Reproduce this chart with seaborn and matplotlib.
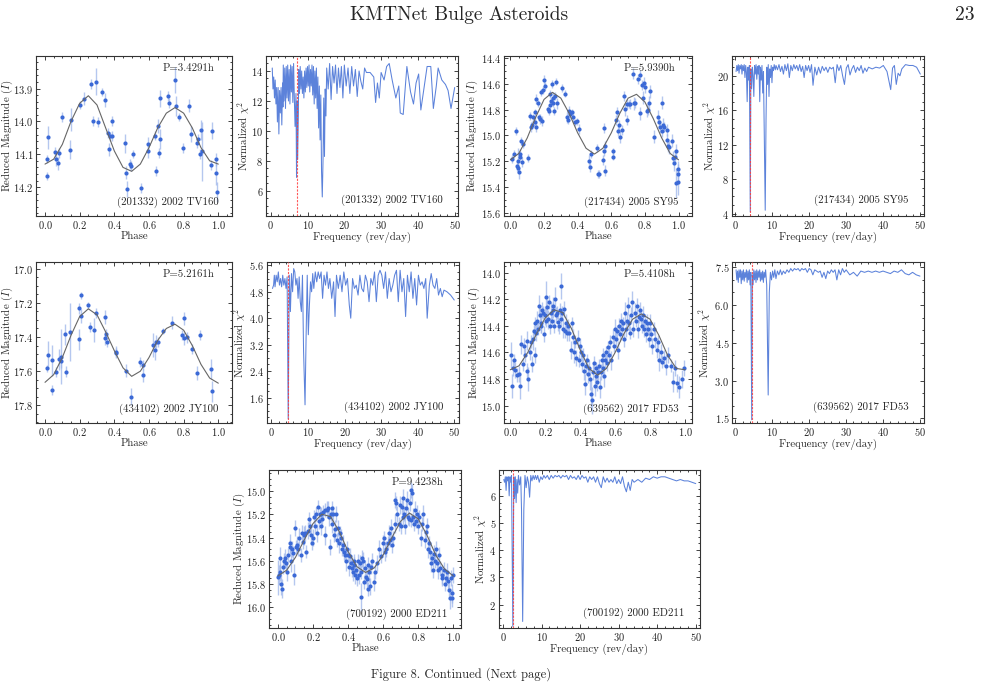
import numpy as np
import pandas as pd
import matplotlib
matplotlib.use("Agg")
import matplotlib.pyplot as plt
import seaborn as sns
from matplotlib.ticker import MultipleLocator, AutoMinorLocator

# ------------------------------------------------------------------ data
NAMES = ["(201332) 2002 TV160", "(217434) 2005 SY95", "(434102) 2002 JY100",
         "(639562) 2017 FD53", "(700192) 2000 ED211"]
PERIOD_LABELS = ["P=3.4291h", "P=5.9390h", "P=5.2161h", "P=5.4108h", "P=9.4238h"]
BEST_FREQ = [7.0, 4.04, 4.60, 4.44, 2.55]

FIT_PHASE = [0.00, 0.05, 0.10, 0.15, 0.20, 0.25, 0.30, 0.35, 0.40, 0.45, 0.50,
             0.55, 0.60, 0.65, 0.70, 0.75, 0.80, 0.85, 0.90, 0.95, 1.00]
FIT_A = [14.130, 14.115, 14.070, 14.000, 13.945, 13.922, 13.950, 14.020, 14.090, 14.140, 14.152,
         14.130, 14.080, 14.020, 13.975, 13.958, 13.975, 14.020, 14.080, 14.120, 14.130]
FIT_C = [15.190, 15.140, 15.020, 14.860, 14.720, 14.665, 14.710, 14.830, 14.980, 15.100, 15.145,
         15.100, 14.980, 14.830, 14.710, 14.680, 14.740, 14.870, 15.020, 15.140, 15.190]
FIT_E = [17.665, 17.620, 17.520, 17.390, 17.280, 17.235, 17.270, 17.370, 17.480, 17.580, 17.630,
         17.600, 17.520, 17.420, 17.350, 17.325, 17.360, 17.450, 17.560, 17.640, 17.670]
FIT_G = [14.730, 14.700, 14.600, 14.460, 14.340, 14.280, 14.300, 14.420, 14.580, 14.720, 14.770,
         14.720, 14.600, 14.460, 14.350, 14.310, 14.350, 14.470, 14.620, 14.720, 14.730]
FIT_I = [15.730, 15.680, 15.570, 15.420, 15.280, 15.200, 15.220, 15.350, 15.520, 15.650, 15.700,
         15.660, 15.550, 15.400, 15.260, 15.190, 15.240, 15.380, 15.550, 15.670, 15.730]

PH_A = [0.010, 0.013, 0.019, 0.060, 0.063, 0.073, 0.083, 0.100, 0.144, 0.148,
        0.200, 0.225, 0.265, 0.294, 0.277, 0.306, 0.327, 0.344, 0.362, 0.367,
        0.375, 0.387, 0.387, 0.463, 0.465, 0.473, 0.492, 0.498, 0.508, 0.556,
        0.592, 0.592, 0.635, 0.638, 0.652, 0.660, 0.665, 0.665, 0.712, 0.713,
        0.750, 0.756, 0.775, 0.798, 0.830, 0.840, 0.881, 0.879, 0.894, 0.902,
        0.906, 0.958, 0.965, 0.988, 0.988, 0.990]
MAG_A = [14.115, 14.166, 14.048, 14.092, 14.115, 14.127, 14.097, 13.986, 14.086, 13.995,
         13.950, 13.931, 13.887, 13.879, 14.000, 14.002, 13.911, 13.935, 14.035, 14.085,
         14.046, 14.045, 14.000, 14.067, 14.156, 14.205, 14.129, 14.137, 14.099, 14.202,
         14.069, 14.090, 14.043, 14.150, 14.014, 14.096, 13.930, 14.053, 13.924, 13.945,
         13.875, 13.954, 13.988, 14.080, 13.952, 14.038, 14.053, 14.065, 14.099, 14.026,
         14.091, 14.132, 14.028, 14.116, 14.158, 14.215]
ERR_A = [0.012, 0.012, 0.035, 0.015, 0.020, 0.020, 0.015, 0.015, 0.030, 0.035,
         0.012, 0.020, 0.015, 0.040, 0.015, 0.015, 0.012, 0.020, 0.015, 0.020,
         0.015, 0.015, 0.015, 0.030, 0.020, 0.025, 0.015, 0.015, 0.012, 0.015,
         0.020, 0.020, 0.015, 0.015, 0.020, 0.015, 0.025, 0.030, 0.015, 0.015,
         0.040, 0.030, 0.012, 0.015, 0.020, 0.025, 0.015, 0.015, 0.015, 0.030,
         0.090, 0.015, 0.025, 0.020, 0.035, 0.030]

PH_C = [0.012, 0.022, 0.036, 0.038, 0.046, 0.048, 0.054, 0.056, 0.060, 0.064,
        0.070, 0.076, 0.107, 0.119, 0.125, 0.131, 0.135, 0.145, 0.149, 0.155,
        0.155, 0.165, 0.169, 0.175, 0.181, 0.187, 0.191, 0.199, 0.207, 0.221,
        0.227, 0.233, 0.237, 0.241, 0.247, 0.251, 0.254, 0.258, 0.264, 0.274,
        0.280, 0.306, 0.324, 0.334, 0.340, 0.348, 0.354, 0.364, 0.374, 0.382,
        0.398, 0.406, 0.467, 0.475, 0.477, 0.513, 0.519, 0.529, 0.551, 0.557,
        0.559, 0.563, 0.565, 0.608, 0.608, 0.626, 0.634, 0.642, 0.646, 0.652,
        0.662, 0.676, 0.684, 0.692, 0.696, 0.706, 0.712, 0.728, 0.734, 0.742,
        0.761, 0.769, 0.773, 0.781, 0.787, 0.795, 0.801, 0.811, 0.819, 0.825,
        0.831, 0.855, 0.879, 0.883, 0.891, 0.899, 0.903, 0.907, 0.915, 0.930,
        0.934, 0.940, 0.946, 0.960, 0.968, 0.974, 0.978, 0.986, 0.994, 0.986,
        0.996, 0.998]
MAG_C = [15.183, 15.144, 14.963, 15.240, 15.196, 15.253, 15.286, 15.165, 15.144, 15.043,
         15.209, 15.067, 15.175, 14.850, 14.937, 14.917, 14.860, 14.899, 14.821, 14.718,
         14.932, 14.751, 14.860, 14.873, 14.666, 14.886, 14.645, 14.571, 14.617, 14.798,
         14.813, 14.762, 14.679, 14.736, 14.602, 14.705, 14.751, 14.808, 14.692, 14.581,
         14.751, 14.633, 14.674, 14.860, 14.881, 14.808, 14.834, 14.821, 14.855, 14.899,
         14.891, 14.950, 15.196, 15.248, 15.144, 15.098, 15.299, 15.299, 15.191, 15.124,
         14.943, 15.080, 15.273, 15.165, 15.124, 14.881, 14.816, 14.963, 14.917, 15.010,
         14.958, 14.692, 14.795, 14.881, 14.757, 14.757, 14.757, 14.519, 14.751, 14.749,
         14.563, 14.829, 14.529, 14.607, 14.705, 14.589, 14.627, 14.808, 14.803, 14.744,
         14.658, 15.010, 14.855, 14.899, 14.932, 14.744, 14.963, 14.917, 14.932, 14.958,
         15.036, 15.080, 15.093, 15.041, 15.175, 15.217, 15.165, 15.118, 15.260, 15.370,
         15.360, 15.300]
ERR_C = [0.03, 0.03, 0.03, 0.04, 0.10, 0.04, 0.05, 0.03, 0.04, 0.03,
         0.04, 0.03, 0.03, 0.03, 0.04, 0.03, 0.03, 0.04, 0.03, 0.04,
         0.04, 0.03, 0.03, 0.04, 0.03, 0.04, 0.03, 0.04, 0.03, 0.03,
         0.03, 0.04, 0.03, 0.03, 0.03, 0.04, 0.03, 0.03, 0.03, 0.03,
         0.04, 0.03, 0.03, 0.04, 0.03, 0.04, 0.03, 0.03, 0.04, 0.03,
         0.03, 0.04, 0.04, 0.04, 0.03, 0.03, 0.03, 0.03, 0.04, 0.04,
         0.04, 0.04, 0.04, 0.03, 0.03, 0.04, 0.04, 0.04, 0.04, 0.05,
         0.04, 0.04, 0.05, 0.04, 0.04, 0.03, 0.04, 0.04, 0.05, 0.04,
         0.04, 0.05, 0.04, 0.04, 0.05, 0.04, 0.04, 0.05, 0.04, 0.05,
         0.05, 0.05, 0.05, 0.04, 0.05, 0.05, 0.05, 0.05, 0.04, 0.05,
         0.05, 0.05, 0.05, 0.05, 0.05, 0.06, 0.05, 0.05, 0.06, 0.12,
         0.10, 0.08]

PH_E = [0.010, 0.015, 0.038, 0.042, 0.062, 0.083, 0.090, 0.090, 0.115, 0.119,
        0.144, 0.194, 0.194, 0.206, 0.208, 0.250, 0.260, 0.285, 0.296, 0.344,
        0.348, 0.354, 0.356, 0.410, 0.410, 0.469, 0.494, 0.548, 0.563, 0.567,
        0.625, 0.633, 0.640, 0.654, 0.683, 0.735, 0.790, 0.800, 0.804, 0.817,
        0.846, 0.875, 0.894, 0.960, 0.965]
MAG_E = [17.583, 17.505, 17.536, 17.709, 17.606, 17.530, 17.515, 17.540, 17.384, 17.602,
         17.369, 17.233, 17.414, 17.276, 17.155, 17.214, 17.340, 17.359, 17.258, 17.282,
         17.404, 17.383, 17.427, 17.485, 17.495, 17.596, 17.748, 17.548, 17.563, 17.625,
         17.447, 17.476, 17.427, 17.427, 17.365, 17.315, 17.388, 17.291, 17.408, 17.402,
         17.470, 17.612, 17.388, 17.588, 17.718]
ERR_E = [0.02, 0.08, 0.09, 0.03, 0.03, 0.06, 0.16, 0.04, 0.06, 0.03,
         0.17, 0.03, 0.06, 0.04, 0.02, 0.02, 0.03, 0.07, 0.03, 0.04,
         0.04, 0.03, 0.03, 0.03, 0.03, 0.04, 0.05, 0.03, 0.03, 0.04,
         0.07, 0.06, 0.04, 0.03, 0.02, 0.04, 0.03, 0.04, 0.04, 0.03,
         0.03, 0.04, 0.03, 0.06, 0.06]

PH_G = [0.003, 0.008, 0.013, 0.021, 0.028, 0.038, 0.047, 0.056, 0.062, 0.071,
        0.078, 0.086, 0.093, 0.098, 0.104, 0.111, 0.117, 0.123, 0.128, 0.134,
        0.139, 0.144, 0.148, 0.153, 0.158, 0.163, 0.168, 0.173, 0.178, 0.183,
        0.188, 0.193, 0.198, 0.203, 0.207, 0.212, 0.217, 0.222, 0.227, 0.232,
        0.237, 0.242, 0.247, 0.252, 0.257, 0.262, 0.267, 0.272, 0.277, 0.282,
        0.288, 0.293, 0.298, 0.303, 0.308, 0.313, 0.318, 0.323, 0.330, 0.338,
        0.345, 0.352, 0.358, 0.365, 0.372, 0.378, 0.385, 0.391, 0.397, 0.403,
        0.409, 0.415, 0.421, 0.427, 0.433, 0.439, 0.445, 0.451, 0.457, 0.463,
        0.468, 0.473, 0.478, 0.483, 0.488, 0.493, 0.498, 0.503, 0.508, 0.513,
        0.518, 0.523, 0.528, 0.533, 0.538, 0.543, 0.549, 0.555, 0.561, 0.567,
        0.573, 0.579, 0.585, 0.591, 0.597, 0.603, 0.609, 0.615, 0.621, 0.627,
        0.633, 0.639, 0.645, 0.651, 0.657, 0.663, 0.669, 0.675, 0.681, 0.687,
        0.693, 0.699, 0.705, 0.711, 0.717, 0.723, 0.729, 0.735, 0.741, 0.747,
        0.753, 0.759, 0.765, 0.771, 0.777, 0.783, 0.789, 0.795, 0.801, 0.807,
        0.813, 0.821, 0.829, 0.837, 0.845, 0.853, 0.861, 0.871, 0.881, 0.891,
        0.903, 0.917, 0.929, 0.941, 0.955, 0.967, 0.981, 0.996]
MAG_G = [14.62, 14.85, 14.72, 14.66, 14.73, 14.77, 14.76, 14.85, 14.54, 14.69,
         14.55, 14.62, 14.74, 14.51, 14.80, 14.60, 14.52, 14.69, 14.50, 14.44,
         14.62, 14.38, 14.45, 14.36, 14.42, 14.25, 14.32, 14.40, 14.38, 14.28,
         14.30, 14.46, 14.32, 14.18, 14.36, 14.26, 14.35, 14.22, 14.40, 14.30,
         14.36, 14.28, 14.25, 14.40, 14.20, 14.32, 14.30, 14.37, 14.40, 14.28,
         14.10, 14.35, 14.30, 14.42, 14.27, 14.44, 14.38, 14.45, 14.40, 14.45,
         14.58, 14.38, 14.48, 14.60, 14.52, 14.64, 14.50, 14.66, 14.55, 14.60,
         14.69, 14.62, 14.74, 14.84, 14.70, 14.66, 14.76, 14.72, 14.80, 14.91,
         14.96, 14.75, 14.68, 14.85, 14.78, 14.72, 14.82, 14.75, 14.70, 14.86,
         14.75, 14.66, 14.72, 14.62, 14.78, 14.66, 14.60, 14.68, 14.56, 14.62,
         14.52, 14.66, 14.48, 14.55, 14.42, 14.50, 14.44, 14.58, 14.40, 14.46,
         14.36, 14.42, 14.38, 14.50, 14.30, 14.42, 14.36, 14.25, 14.38, 14.45,
         14.32, 14.22, 14.42, 14.30, 14.36, 14.25, 14.42, 14.33, 14.28, 14.35,
         14.40, 14.32, 14.42, 14.36, 14.46, 14.38, 14.42, 14.50, 14.38, 14.46,
         14.55, 14.42, 14.50, 14.58, 14.52, 14.66, 14.60, 14.67, 14.64, 14.70,
         14.62, 14.70, 14.82, 14.72, 14.83, 14.86, 14.80, 14.72]
ERR_G = [0.10, 0.09, 0.06, 0.05, 0.06, 0.05, 0.06, 0.10, 0.07, 0.05,
         0.06, 0.05, 0.06, 0.07, 0.09, 0.06, 0.05, 0.06, 0.08, 0.05,
         0.06, 0.05, 0.06, 0.07, 0.05, 0.08, 0.06, 0.05, 0.07, 0.06,
         0.05, 0.06, 0.07, 0.12, 0.05, 0.06, 0.07, 0.05, 0.06, 0.08,
         0.05, 0.06, 0.07, 0.05, 0.09, 0.06, 0.05, 0.07, 0.06, 0.05,
         0.10, 0.06, 0.05, 0.07, 0.06, 0.05, 0.07, 0.06, 0.05, 0.06,
         0.07, 0.05, 0.06, 0.08, 0.05, 0.06, 0.07, 0.05, 0.06, 0.05,
         0.06, 0.05, 0.07, 0.08, 0.06, 0.05, 0.07, 0.06, 0.08, 0.10,
         0.10, 0.06, 0.05, 0.08, 0.06, 0.05, 0.07, 0.06, 0.05, 0.08,
         0.06, 0.05, 0.07, 0.05, 0.08, 0.06, 0.05, 0.06, 0.05, 0.06,
         0.05, 0.07, 0.06, 0.05, 0.07, 0.06, 0.05, 0.07, 0.06, 0.05,
         0.06, 0.07, 0.05, 0.06, 0.08, 0.06, 0.05, 0.07, 0.06, 0.05,
         0.06, 0.08, 0.06, 0.07, 0.05, 0.06, 0.07, 0.05, 0.06, 0.06,
         0.05, 0.07, 0.06, 0.05, 0.06, 0.07, 0.05, 0.06, 0.07, 0.05,
         0.06, 0.05, 0.07, 0.06, 0.05, 0.08, 0.06, 0.05, 0.06, 0.07,
         0.06, 0.05, 0.08, 0.06, 0.07, 0.08, 0.07, 0.06]

PH_I = [0.002, 0.005, 0.009, 0.013, 0.018, 0.022, 0.027, 0.032, 0.040, 0.046,
        0.052, 0.058, 0.066, 0.071, 0.077, 0.083, 0.088, 0.094, 0.098, 0.104,
        0.110, 0.116, 0.122, 0.129, 0.136, 0.142, 0.149, 0.156, 0.162, 0.169,
        0.176, 0.182, 0.187, 0.193, 0.198, 0.204, 0.211, 0.217, 0.222, 0.228,
        0.233, 0.238, 0.243, 0.248, 0.253, 0.259, 0.266, 0.271, 0.278, 0.285,
        0.290, 0.295, 0.301, 0.306, 0.311, 0.316, 0.321, 0.326, 0.331, 0.336,
        0.341, 0.346, 0.352, 0.358, 0.365, 0.371, 0.377, 0.383, 0.388, 0.393,
        0.399, 0.405, 0.411, 0.416, 0.421, 0.426, 0.431, 0.436, 0.441, 0.446,
        0.451, 0.456, 0.461, 0.466, 0.471, 0.476, 0.481, 0.486, 0.491, 0.496,
        0.501, 0.506, 0.511, 0.516, 0.521, 0.526, 0.531, 0.538, 0.546, 0.556,
        0.567, 0.578, 0.588, 0.598, 0.606, 0.612, 0.619, 0.627, 0.633, 0.640,
        0.646, 0.651, 0.657, 0.665, 0.670, 0.676, 0.681, 0.688, 0.695, 0.700,
        0.706, 0.711, 0.716, 0.721, 0.726, 0.731, 0.736, 0.741, 0.746, 0.751,
        0.756, 0.761, 0.766, 0.771, 0.776, 0.781, 0.786, 0.795, 0.801, 0.807,
        0.815, 0.821, 0.828, 0.836, 0.842, 0.848, 0.855, 0.861, 0.868, 0.874,
        0.879, 0.884, 0.889, 0.896, 0.902, 0.908, 0.915, 0.921, 0.927, 0.933,
        0.938, 0.945, 0.950, 0.956, 0.962, 0.968, 0.975, 0.980, 0.986, 0.991,
        0.995, 0.998]
MAG_I = [15.74, 15.72, 15.58, 15.70, 15.80, 15.84, 15.65, 15.60, 15.58, 15.62,
         15.70, 15.55, 15.45, 15.48, 15.60, 15.50, 15.53, 15.72, 15.32, 15.48,
         15.46, 15.50, 15.40, 15.55, 15.36, 15.44, 15.38, 15.36, 15.52, 15.34,
         15.24, 15.30, 15.38, 15.45, 15.40, 15.22, 15.30, 15.20, 15.36, 15.14,
         15.26, 15.20, 15.30, 15.20, 15.24, 15.18, 15.38, 15.16, 15.16, 15.15,
         15.22, 15.48, 15.20, 15.28, 15.15, 15.20, 15.38, 15.33, 15.20, 15.42,
         15.32, 15.45, 15.36, 15.40, 15.50, 15.46, 15.52, 15.55, 15.60, 15.50,
         15.55, 15.65, 15.56, 15.62, 15.66, 15.70, 15.60, 15.64, 15.72, 15.68,
         15.75, 15.60, 15.72, 15.62, 15.91, 15.70, 15.58, 15.60, 15.78, 15.66,
         15.74, 15.76, 15.64, 15.84, 15.70, 15.82, 15.65, 15.60, 15.78, 15.70,
         15.62, 15.50, 15.56, 15.45, 15.40, 15.52, 15.50, 15.45, 15.36, 15.42,
         15.32, 15.46, 15.40, 15.08, 15.28, 15.10, 15.20, 15.28, 15.12, 15.30,
         15.14, 15.22, 15.06, 15.20, 15.30, 15.15, 15.08, 15.22, 15.24, 15.10,
         14.99, 15.25, 15.02, 15.22, 15.28, 15.16, 15.26, 15.20, 15.30, 15.22,
         15.40, 15.28, 15.20, 15.42, 15.35, 15.30, 15.50, 15.45, 15.52, 15.62,
         15.58, 15.68, 15.54, 15.60, 15.50, 15.62, 15.68, 15.55, 15.66, 15.75,
         15.72, 15.68, 15.80, 15.75, 15.70, 15.77, 15.85, 15.92, 15.75, 15.88,
         15.92, 15.72]
ERR_I = [0.15, 0.08, 0.10, 0.07, 0.09, 0.08, 0.06, 0.07, 0.08, 0.06,
         0.07, 0.06, 0.08, 0.06, 0.10, 0.07, 0.06, 0.09, 0.07, 0.06,
         0.07, 0.06, 0.08, 0.06, 0.07, 0.06, 0.08, 0.07, 0.06, 0.07,
         0.06, 0.07, 0.08, 0.06, 0.07, 0.06, 0.07, 0.06, 0.08, 0.06,
         0.07, 0.06, 0.08, 0.06, 0.07, 0.06, 0.08, 0.06, 0.07, 0.06,
         0.08, 0.07, 0.06, 0.08, 0.06, 0.07, 0.06, 0.08, 0.07, 0.06,
         0.07, 0.08, 0.06, 0.07, 0.06, 0.08, 0.07, 0.06, 0.09, 0.07,
         0.06, 0.08, 0.07, 0.06, 0.08, 0.07, 0.06, 0.07, 0.08, 0.06,
         0.07, 0.06, 0.08, 0.07, 0.12, 0.06, 0.07, 0.08, 0.06, 0.07,
         0.06, 0.08, 0.07, 0.06, 0.08, 0.07, 0.06, 0.07, 0.08, 0.06,
         0.07, 0.08, 0.06, 0.07, 0.06, 0.08, 0.07, 0.06, 0.07, 0.06,
         0.08, 0.07, 0.06, 0.07, 0.08, 0.06, 0.07, 0.06, 0.08, 0.07,
         0.06, 0.07, 0.08, 0.06, 0.07, 0.06, 0.08, 0.07, 0.06, 0.07,
         0.07, 0.06, 0.08, 0.07, 0.06, 0.07, 0.06, 0.08, 0.07, 0.06,
         0.07, 0.06, 0.08, 0.07, 0.06, 0.07, 0.08, 0.06, 0.07, 0.08,
         0.06, 0.07, 0.08, 0.06, 0.07, 0.06, 0.08, 0.07, 0.06, 0.07,
         0.08, 0.07, 0.06, 0.07, 0.08, 0.07, 0.08, 0.09, 0.07, 0.08,
         0.08, 0.07]

# periodograms: (frequency rev/day, normalized chi^2)
PG_B = [(0.4, 14.2), (0.6, 12.8), (0.8, 13.6), (1.0, 12.2), (1.2, 13.4), (1.4, 11.8),
        (1.6, 12.9), (1.8, 10.6), (2.0, 12.9), (2.2, 9.8), (2.4, 12.7), (2.6, 11.2),
        (2.8, 12.9), (3.0, 10.4), (3.2, 13.2), (3.3, 11.6), (3.4, 14.4), (3.6, 12.0),
        (3.8, 14.2), (4.0, 11.5), (4.2, 14.3), (4.4, 12.2), (4.6, 14.4), (4.8, 12.0),
        (5.0, 14.1), (5.2, 11.8), (5.4, 14.4), (5.6, 12.6), (5.8, 14.3), (6.0, 11.9),
        (6.2, 14.5), (6.4, 12.2), (6.6, 10.3), (6.85, 12.5), (7.0, 6.9), (7.15, 12.0),
        (7.3, 8.1), (7.5, 11.2), (7.6, 14.1), (7.8, 12.5), (8.0, 14.3), (8.2, 12.8),
        (8.4, 14.0), (8.6, 12.5), (8.8, 13.6), (9.0, 12.2), (9.2, 14.0), (9.4, 12.6),
        (9.6, 14.2), (9.8, 12.9), (10.0, 14.3), (10.2, 13.0), (10.4, 14.4), (10.6, 12.6),
        (10.8, 14.1), (11.0, 13.0), (11.2, 14.4), (11.4, 12.4), (11.6, 14.3), (11.8, 11.8),
        (12.0, 14.0), (12.2, 12.2), (12.4, 14.2), (12.6, 11.5), (12.8, 13.6), (13.0, 10.2),
        (13.2, 13.0), (13.4, 9.4), (13.6, 12.4), (13.8, 7.3), (14.0, 5.6), (14.2, 8.0),
        (14.4, 12.2), (14.6, 8.3), (14.8, 12.8), (15.0, 11.0), (15.2, 14.2), (15.6, 12.8),
        (16.0, 14.5), (16.4, 12.1), (16.8, 14.3), (17.2, 13.2), (17.6, 14.4), (18.0, 12.5),
        (18.4, 14.2), (18.8, 12.9), (19.2, 14.3), (19.6, 12.2), (20.0, 14.4), (20.5, 13.0),
        (21.0, 14.2), (21.5, 12.5), (22.0, 14.3), (22.5, 13.0), (23.0, 14.1), (23.5, 12.3),
        (24.0, 14.0), (24.5, 13.3), (25.0, 12.8), (25.5, 14.2), (26.0, 13.9), (27.0, 13.9),
        (28.0, 13.6), (28.5, 11.9), (29.0, 13.2), (29.5, 12.2), (30.0, 13.9), (30.8, 13.4),
        (31.5, 14.3), (32.2, 14.5), (33.0, 13.4), (34.0, 12.2), (34.8, 13.0), (35.2, 11.2),
        (36.0, 11.1), (37.0, 14.3), (38.0, 12.6), (38.8, 11.8), (39.5, 13.2), (40.2, 13.8),
        (40.8, 11.4), (41.5, 12.6), (42.5, 14.3), (43.5, 14.3), (44.2, 11.5), (45.0, 13.0),
        (45.5, 14.2), (46.5, 13.4), (47.5, 13.1), (48.2, 12.7), (49.0, 11.5), (50.0, 12.9)]

PG_D = [(0.2, 20.5), (0.4, 21.2), (0.6, 20.6), (0.8, 21.3), (1.0, 20.3), (1.2, 21.2),
        (1.4, 20.8), (1.6, 21.3), (1.8, 20.2), (2.0, 21.2), (2.2, 20.6), (2.4, 21.3),
        (2.6, 19.8), (2.8, 21.2), (3.0, 20.4), (3.2, 17.0), (3.4, 21.0), (3.6, 19.5),
        (3.8, 21.2), (4.04, 4.2), (4.2, 20.8), (4.4, 18.5), (4.6, 21.0), (4.8, 20.0),
        (5.0, 17.6), (5.2, 21.2), (5.4, 20.2), (5.6, 21.3), (5.8, 19.6), (6.0, 21.1),
        (6.2, 20.2), (6.4, 21.2), (6.6, 17.0), (6.8, 21.0), (7.0, 19.5), (7.2, 21.2),
        (7.4, 18.0), (7.6, 20.5), (7.8, 14.0), (8.08, 4.4), (8.3, 15.0), (8.5, 21.0),
        (8.7, 19.0), (8.9, 21.3), (9.1, 17.6), (9.3, 20.8), (9.5, 19.8), (9.7, 21.2),
        (9.9, 19.2), (10.1, 21.0), (10.3, 20.6), (10.5, 21.3), (10.8, 20.7), (11.0, 21.2),
        (11.4, 20.7), (11.8, 21.3), (12.2, 20.5), (12.6, 21.1), (13.0, 20.2), (13.4, 21.3),
        (13.8, 20.6), (14.2, 21.4), (14.6, 19.8), (15.0, 21.2), (15.4, 20.6), (15.8, 21.3),
        (16.2, 20.8), (16.6, 21.2), (17.0, 20.6), (17.4, 21.3), (17.8, 20.5), (18.2, 21.1),
        (18.6, 19.8), (19.0, 21.2), (19.4, 20.6), (19.8, 21.2), (20.2, 20.4), (20.6, 21.3),
        (21.0, 18.9), (21.5, 21.0), (22.0, 20.1), (22.5, 21.0), (23.0, 20.3), (23.5, 21.1),
        (24.0, 20.6), (24.5, 21.0), (25.0, 20.4), (25.5, 21.0), (26.0, 20.8), (26.5, 21.0),
        (27.0, 19.2), (27.5, 21.3), (28.0, 20.6), (28.5, 21.2), (29.0, 20.0), (29.5, 19.0),
        (30.0, 20.9), (30.5, 21.3), (31.0, 20.1), (31.5, 20.8), (32.0, 21.2), (32.5, 20.4),
        (33.0, 21.0), (33.5, 20.6), (34.0, 21.2), (34.5, 20.3), (35.0, 20.9), (35.5, 20.5),
        (36.0, 21.0), (37.0, 20.8), (38.0, 21.0), (39.0, 20.9), (40.0, 21.2), (41.0, 20.5),
        (42.0, 18.4), (42.5, 20.9), (43.0, 21.2), (43.5, 19.0), (44.0, 20.3), (44.5, 20.0),
        (45.0, 20.8), (46.0, 21.3), (47.0, 21.2), (48.0, 21.2), (49.0, 21.0), (50.0, 20.2)]

PG_F = [(0.3, 4.9), (0.6, 5.0), (0.8, 5.3), (1.0, 4.95), (1.3, 5.3), (1.6, 5.1),
        (1.9, 5.4), (2.2, 5.0), (2.5, 5.2), (2.8, 4.95), (3.1, 5.3), (3.4, 5.0),
        (3.7, 5.2), (4.0, 4.9), (4.3, 5.25), (4.6, 0.95), (4.9, 5.3), (5.2, 4.2),
        (5.5, 5.35), (5.8, 4.8), (6.1, 5.5), (6.4, 5.4), (6.7, 5.0), (7.0, 5.2),
        (7.3, 4.6), (7.6, 5.25), (7.9, 4.5), (8.2, 4.2), (8.5, 5.3), (8.8, 3.0),
        (9.2, 1.38), (9.5, 3.5), (9.8, 5.3), (10.1, 3.5), (10.4, 4.4), (10.7, 5.1),
        (11.0, 4.8), (11.3, 5.35), (11.6, 4.9), (12.0, 5.4), (12.4, 5.1), (12.8, 5.4),
        (13.2, 5.2), (13.6, 5.4), (14.0, 4.6), (14.4, 5.3), (14.8, 5.0), (15.2, 5.4),
        (15.6, 4.9), (16.0, 5.2), (16.5, 4.6), (17.0, 5.1), (17.4, 4.05), (17.8, 5.3),
        (18.3, 4.9), (18.8, 5.3), (19.3, 4.8), (19.8, 5.4), (20.3, 5.0), (20.8, 5.2),
        (21.3, 4.4), (21.7, 4.0), (22.2, 5.2), (22.7, 4.9), (23.2, 5.0), (23.7, 4.7),
        (24.2, 5.3), (24.7, 4.9), (25.2, 4.8), (25.7, 5.3), (26.2, 5.1), (26.7, 4.5),
        (27.2, 5.2), (27.7, 5.0), (28.2, 5.4), (28.7, 4.5), (29.2, 5.3), (29.7, 5.45),
        (30.2, 5.3), (30.7, 4.9), (31.2, 5.4), (31.7, 4.6), (32.2, 5.2), (32.7, 4.8),
        (33.2, 5.0), (33.7, 5.3), (34.2, 5.45), (34.7, 4.5), (35.2, 5.45), (35.7, 4.8),
        (36.2, 5.2), (36.7, 4.05), (37.2, 5.3), (37.7, 4.8), (38.2, 5.4), (38.7, 4.6),
        (39.2, 5.2), (39.7, 4.4), (40.2, 5.3), (40.7, 5.0), (41.2, 5.1), (41.7, 4.9),
        (42.2, 5.2), (42.6, 4.0), (43.2, 5.0), (43.7, 5.35), (44.2, 5.0), (44.7, 4.9),
        (45.2, 5.2), (45.7, 4.7), (46.2, 4.9), (46.7, 4.65), (47.2, 4.85), (48.0, 4.8),
        (49.0, 4.7), (50.0, 4.55)]

PG_H = [(0.2, 7.4), (0.4, 7.0), (0.6, 7.35), (0.8, 6.9), (1.0, 7.4), (1.2, 7.1),
        (1.4, 7.4), (1.6, 6.85), (1.8, 7.35), (2.0, 7.0), (2.2, 7.4), (2.4, 6.95),
        (2.6, 7.3), (2.8, 7.1), (3.0, 7.4), (3.2, 6.9), (3.4, 7.35), (3.6, 7.0),
        (3.8, 7.4), (4.0, 6.8), (4.2, 7.3), (4.44, 1.45), (4.6, 7.2), (4.8, 6.8),
        (5.0, 7.4), (5.2, 7.0), (5.4, 7.35), (5.6, 6.9), (5.8, 7.4), (6.0, 7.0),
        (6.2, 7.35), (6.4, 7.1), (6.6, 7.4), (6.8, 6.95), (7.0, 7.3), (7.2, 7.0),
        (7.4, 7.35), (7.6, 6.9), (7.8, 7.3), (8.0, 7.1), (8.2, 7.4), (8.5, 6.8),
        (8.9, 2.43), (9.2, 6.5), (9.5, 7.3), (9.8, 7.0), (10.1, 7.35), (10.4, 7.1),
        (10.7, 7.4), (11.0, 7.05), (11.4, 7.35), (11.8, 7.2), (12.2, 7.4), (12.6, 7.2),
        (13.0, 7.35), (13.5, 7.25), (14.0, 7.4), (14.5, 7.3), (15.0, 7.45), (15.5, 7.35),
        (16.0, 7.45), (16.5, 7.4), (17.0, 7.45), (17.5, 7.35), (18.0, 7.45), (18.5, 7.4),
        (19.0, 7.45), (19.5, 7.3), (20.0, 7.45), (20.5, 7.4), (21.0, 7.2), (21.5, 7.4),
        (22.0, 7.35), (22.5, 7.3), (23.0, 7.35), (23.5, 7.1), (24.0, 7.3), (24.5, 7.05),
        (25.0, 7.35), (25.5, 7.25), (26.0, 7.4), (26.5, 7.3), (27.0, 7.4), (27.5, 7.0),
        (28.0, 7.4), (28.5, 7.2), (29.0, 7.45), (29.5, 7.3), (30.0, 7.4), (31.0, 7.2),
        (32.0, 7.3), (33.0, 7.15), (34.0, 7.35), (35.0, 7.3), (36.0, 7.35), (37.0, 7.3),
        (38.0, 7.35), (39.0, 7.3), (40.0, 7.35), (41.0, 7.3), (42.0, 7.25), (43.0, 7.35),
        (44.0, 7.3), (45.0, 7.4), (46.0, 7.25), (47.0, 7.2), (48.0, 7.3), (49.0, 7.2),
        (50.0, 7.15)]

PG_J = [(0.2, 6.6), (0.4, 6.5), (0.6, 6.7), (0.8, 6.2), (1.0, 6.7), (1.2, 6.55),
        (1.4, 6.7), (1.6, 6.0), (1.8, 6.7), (2.0, 6.5), (2.2, 6.75), (2.55, 1.2),
        (2.8, 6.7), (3.0, 5.9), (3.2, 6.7), (3.4, 5.75), (3.6, 6.6), (3.8, 6.1),
        (4.0, 6.75), (4.3, 6.4), (4.6, 6.7), (4.8, 5.5), (5.1, 1.38), (5.4, 5.5),
        (5.7, 6.75), (6.0, 6.3), (6.3, 6.7), (6.6, 6.5), (6.9, 5.95), (7.2, 6.75),
        (7.5, 6.55), (7.8, 6.75), (8.1, 6.6), (8.4, 6.75), (8.7, 6.6), (9.0, 6.75),
        (9.4, 6.5), (9.8, 6.7), (10.2, 6.6), (10.6, 6.75), (11.0, 6.65), (11.5, 6.75),
        (12.0, 6.6), (12.5, 6.75), (13.0, 6.65), (13.5, 6.75), (14.0, 6.7), (14.5, 6.75),
        (15.0, 6.65), (15.5, 6.75), (16.0, 6.7), (16.5, 6.75), (17.0, 6.6), (17.5, 6.75),
        (18.0, 6.65), (18.5, 6.7), (19.0, 6.6), (19.5, 6.75), (20.0, 6.6), (20.5, 6.75),
        (21.0, 6.65), (21.5, 6.7), (22.0, 6.5), (22.5, 6.7), (23.0, 6.6), (23.5, 6.7),
        (24.0, 6.5), (24.5, 6.7), (25.0, 6.45), (25.5, 6.3), (26.0, 6.7), (26.5, 6.5),
        (27.0, 6.65), (27.5, 6.5), (28.0, 6.6), (28.5, 6.5), (29.0, 6.7), (29.5, 6.45),
        (30.0, 6.6), (30.5, 6.45), (31.0, 6.7), (31.5, 6.35), (32.0, 6.15), (32.5, 6.5),
        (33.0, 6.2), (33.5, 6.6), (34.0, 6.5), (35.0, 6.6), (36.0, 6.5), (37.0, 6.65),
        (38.0, 6.6), (39.0, 6.7), (40.0, 6.65), (41.0, 6.7), (42.0, 6.7), (43.0, 6.65),
        (44.0, 6.6), (45.0, 6.55), (46.0, 6.6), (47.0, 6.55), (48.0, 6.55), (49.0, 6.5),
        (50.0, 6.45)]

# ------------------------------------------------------------------ style
sns.set_theme(style="ticks")
plt.rcParams.update({
    "font.family": ["cmr10", "DejaVu Serif"],
    "mathtext.fontset": "cm",
    "axes.formatter.use_mathtext": True,
    "axes.unicode_minus": False,
    "axes.edgecolor": "#333333",
    "axes.linewidth": 0.8,
    "xtick.color": "#222222",
    "ytick.color": "#222222",
})

FS = 7.5
PT_COLOR = "#3B69D6"
ERR_COLOR = "#9DB5EA"
LINE_COLOR = "#3F6CD4"
FIT_COLOR = "#666666"

W, H = 982, 682
fig = plt.figure(figsize=(W / 100, H / 100), dpi=100)


def add_axes(x0, y0, x1, y1):
    return fig.add_axes([x0 / W, 1 - y1 / H, (x1 - x0) / W, (y1 - y0) / H])


def style_axes(ax, xmaj, xmin, ymaj, ymin):
    ax.xaxis.set_major_locator(MultipleLocator(xmaj))
    ax.xaxis.set_minor_locator(MultipleLocator(xmin))
    ax.yaxis.set_major_locator(MultipleLocator(ymaj))
    ax.yaxis.set_minor_locator(MultipleLocator(ymin))
    ax.tick_params(which="both", direction="in", top=True, right=True,
                   labelsize=FS, pad=2, width=0.6)
    ax.tick_params(which="major", length=3)
    ax.tick_params(which="minor", length=1.6)
    for s in ax.spines.values():
        s.set_visible(True)


def light_curve(ax, ph, mag, err, fit, plabel, name, xlim, ylim, ymaj, ymin, ylab_x):
    df = pd.DataFrame(list(zip(ph, mag, err)), columns=["phase", "mag", "err"])
    ax.errorbar(df["phase"], df["mag"], yerr=df["err"], fmt="none",
                ecolor=ERR_COLOR, elinewidth=1.0, alpha=0.75, zorder=1)
    sns.scatterplot(data=df, x="phase", y="mag", ax=ax, color=PT_COLOR, s=9,
                    linewidth=0, zorder=2, legend=False)
    fit_df = pd.DataFrame({"phase": FIT_PHASE, "mag": fit})
    sns.lineplot(data=fit_df, x="phase", y="mag", ax=ax, color=FIT_COLOR,
                 lw=0.8, zorder=3, estimator=None)
    ax.set_xlim(*xlim)
    ax.set_ylim(*ylim)
    style_axes(ax, 0.2, 0.05, ymaj, ymin)
    ax.set_xlabel("Phase", fontsize=FS + 0.3, labelpad=0.5)
    ax.set_ylabel("Reduced Magnitude ($I$)", fontsize=FS + 0.3)
    ax.yaxis.set_label_coords(ylab_x, 0.5)
    ax.text(0.91, 0.955, plabel, transform=ax.transAxes, ha="right", va="top",
            fontsize=FS + 0.3)
    ax.text(0.93, 0.05, name, transform=ax.transAxes, ha="right", va="bottom",
            fontsize=FS + 0.3)


def periodogram(ax, pts, best, name, xlim, ylim, ymaj, ymin, ylab_x):
    df = pd.DataFrame(pts, columns=["freq", "chi2"])
    sns.lineplot(data=df, x="freq", y="chi2", ax=ax, color=LINE_COLOR, lw=0.75,
                 alpha=0.85, estimator=None, zorder=2)
    ax.axvline(best, color="#FF3B3B", lw=0.8, ls=(0, (2.0, 1.2)), alpha=0.85, zorder=3)
    ax.set_xlim(*xlim)
    ax.set_ylim(*ylim)
    style_axes(ax, 10, 2, ymaj, ymin)
    ax.set_xlabel("Frequency (rev/day)", fontsize=FS + 0.3, labelpad=0.5)
    ax.set_ylabel("Normalized $\\chi^2$", fontsize=FS + 0.3)
    ax.yaxis.set_label_coords(ylab_x, 0.5)
    ax.text(0.92, 0.06, name, transform=ax.transAxes, ha="right", va="bottom",
            fontsize=FS + 0.3)


# row 1
axA = add_axes(36, 56, 232, 216)
light_curve(axA, PH_A, MAG_A, ERR_A, FIT_A, PERIOD_LABELS[0], NAMES[0],
            (-0.052, 1.079), (14.288, 13.801), 0.1, 0.02, -0.108)
axB = add_axes(266, 56, 458, 216)
periodogram(axB, PG_B, BEST_FREQ[0], NAMES[0], (-1.3, 50.9), (4.33, 15.0), 2, 0.5, -0.072)
axC = add_axes(504, 56, 692, 216)
light_curve(axC, PH_C, MAG_C, ERR_C, FIT_C, PERIOD_LABELS[1], NAMES[1],
            (-0.038, 1.08), (15.627, 14.382), 0.2, 0.05, -0.13)
axD = add_axes(732, 56, 924, 216)
periodogram(axD, PG_D, BEST_FREQ[1], NAMES[1], (-0.9, 51.0), (3.73, 22.3), 4, 1, -0.072)

# row 2
axE = add_axes(36, 262, 232, 423)
light_curve(axE, PH_E, MAG_E, ERR_E, FIT_E, PERIOD_LABELS[2], NAMES[2],
            (-0.052, 1.079), (17.903, 16.961), 0.2, 0.05, -0.108)
axF = add_axes(267, 262, 459, 423)
periodogram(axF, PG_F, BEST_FREQ[2], NAMES[2], (-1.2, 51.3), (0.83, 5.7), 0.8, 0.2, -0.097)
axG = add_axes(504, 262, 692, 423)
light_curve(axG, PH_G, MAG_G, ERR_G, FIT_G, PERIOD_LABELS[3], NAMES[3],
            (-0.036, 1.04), (15.13, 13.92), 0.2, 0.05, -0.118)
axH = add_axes(732, 262, 924, 423)
periodogram(axH, PG_H, BEST_FREQ[3], NAMES[3], (-0.9, 51.1), (1.32, 7.71), 1.5, 0.5, -0.097)

# row 3
axI = add_axes(269, 470, 461, 628)
light_curve(axI, PH_I, MAG_I, ERR_I, FIT_I, PERIOD_LABELS[4], NAMES[4],
            (-0.051, 1.044), (16.177, 14.82), 0.2, 0.05, -0.115)
axJ = add_axes(499, 470, 700, 628)
periodogram(axJ, PG_J, BEST_FREQ[4], NAMES[4], (-1.04, 51.1), (1.14, 6.95), 1, 0.25, -0.05)

# page furniture
fig.text(459 / W, 1 - 15 / H, "KMTNet Bulge Asteroids", ha="center", va="center",
         fontsize=14)
fig.text(975 / W, 1 - 15 / H, "23", ha="right", va="center", fontsize=14)
fig.text(461 / W, 1 / H, "Figure 8. Continued (Next page)", ha="center", va="bottom",
         fontsize=9)

fig.savefig("out.png", dpi=100)
